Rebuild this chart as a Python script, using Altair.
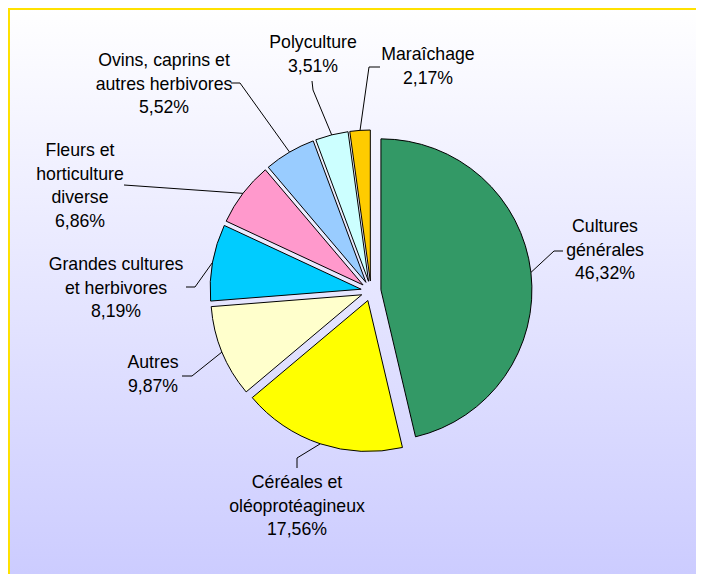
import math
import altair as alt
import pandas as pd

# ---------------- data ----------------
categories = [
    "Cultures générales",
    "Céréales et oléoprotéagineux",
    "Autres",
    "Grandes cultures et herbivores",
    "Fleurs et horticulture diverse",
    "Ovins, caprins et autres herbivores",
    "Polyculture",
    "Maraîchage",
]
label_lines = [
    ["Cultures", "générales"],
    ["Céréales et", "oléoprotéagineux"],
    ["Autres"],
    ["Grandes cultures", "et herbivores"],
    ["Fleurs et", "horticulture", "diverse"],
    ["Ovins, caprins et", "autres herbivores"],
    ["Polyculture"],
    ["Maraîchage"],
]
shares = [46.32, 17.56, 9.87, 8.19, 6.86, 5.52, 3.51, 2.17]
colors = ["#339966", "#FFFF00", "#FFFFCC", "#00CCFF", "#FF99CC", "#99CCFF", "#CCFFFF", "#FFCC00"]

# ---------------- layout (pixels, relative to pie centre, y down) ----------------
W, H = 688, 566
CX, CY = 363, 283
R = 151
EXPLODE = 10
# anchor of the first text line of each label
label_pos = [(234, -64), (-74, 192), (-218, 72), (-255, -26),
             (-291, -140), (-207, -230), (-58, -248), (57, -236)]
leader_pts = [
    [(183, -40), (192, -40)],
    [(-74, 167), (-74, 177)],
    [(-179, 85), (-189, 85)],
    [(-176, -4), (-185, -4)],
    [(-247, -106)],
    [(-131, -208), (-140, -208)],
    [(-58, -201), (-59, -210)],
    [(-2, -224), (9, -224)],
]


def ux(dx):
    return dx / R


def uy(dy):
    return -dy / R


# slices
rows = []
cum = 0.0
for cat, v in zip(categories, shares):
    c0, c1 = cum, cum + v
    cum = c1
    mid = (c0 + c1) / 2 / 100 * 2 * math.pi
    rows.append(dict(cat=cat, value=v, cum0=c0, cum1=c1, mid=mid,
                     cx=EXPLODE / R * math.sin(mid), cy=EXPLODE / R * math.cos(mid)))
slices = pd.DataFrame(rows)

# labels and leader lines
lab_rows = []
line_rows = []
for i, (cat, v) in enumerate(zip(categories, shares)):
    txt = "\n".join(label_lines[i] + [f"{v:.2f}".replace(".", ",") + "%"])
    dx, dy = label_pos[i]
    lab_rows.append(dict(cat=cat, text=txt, tx=ux(dx), ty=uy(dy)))
    mid = rows[i]["mid"]
    k = (R + EXPLODE) / R
    pts = [(k * math.sin(mid), k * math.cos(mid))] + [(ux(a), uy(b)) for a, b in leader_pts[i]]
    for j, (px, py) in enumerate(pts):
        line_rows.append(dict(cat=cat, k=j, lx=px, ly=py))
labels = pd.DataFrame(lab_rows)
leaders = pd.DataFrame(line_rows)

xs = alt.Scale(domain=[-1, 1], range=[CX - R, CX + R], nice=False, zero=False)
ys = alt.Scale(domain=[-1, 1], range=[CY + R, CY - R], nice=False, zero=False)

one = pd.DataFrame({"a": [0]})
bg = alt.Chart(one).mark_rect(
    fill=alt.LinearGradient(
        gradient="linear",
        stops=[alt.GradientStop(color="#FFFFFF", offset=0),
               alt.GradientStop(color="#CCCCFF", offset=1)],
        x1=0, x2=0, y1=0, y2=1,
    ),
).encode(x=alt.value(0), x2=alt.value(W), y=alt.value(0), y2=alt.value(H))

border_left = alt.Chart(one).mark_rule(color="#FFE100", strokeWidth=2).encode(
    x=alt.value(1), y=alt.value(0), y2=alt.value(H))
border_top = alt.Chart(one).mark_rule(color="#FFE100", strokeWidth=2).encode(
    y=alt.value(1), x=alt.value(0), x2=alt.value(W))

pie = alt.Chart(slices).mark_arc(radius=R, stroke="black", strokeWidth=1).encode(
    theta=alt.Theta("cum0:Q", scale=alt.Scale(domain=[0, 100], range=[0, 2 * math.pi]), stack=False),
    theta2="cum1:Q",
    x=alt.X("cx:Q", scale=xs, axis=None),
    y=alt.Y("cy:Q", scale=ys, axis=None),
    fill=alt.Color("cat:N", scale=alt.Scale(domain=categories, range=colors), legend=None),
)

lines = alt.Chart(leaders).mark_line(color="black", strokeWidth=1).encode(
    x=alt.X("lx:Q", scale=xs, axis=None),
    y=alt.Y("ly:Q", scale=ys, axis=None),
    detail="cat:N",
    order="k:O",
)

text = alt.Chart(labels).mark_text(
    font="Liberation Sans", fontSize=17.7, lineBreak="\n", lineHeight=23.5,
    align="center", baseline="middle", color="black",
).encode(
    x=alt.X("tx:Q", scale=xs, axis=None),
    y=alt.Y("ty:Q", scale=ys, axis=None),
    text="text:N",
)

chart = alt.layer(bg, border_left, border_top, pie, lines, text).properties(
    width=W, height=H, padding=0, autosize=alt.AutoSizeParams(type="none")
).configure_view(stroke=None)

chart.save("out.html", embed_options={"renderer": "svg", "actions": False})
